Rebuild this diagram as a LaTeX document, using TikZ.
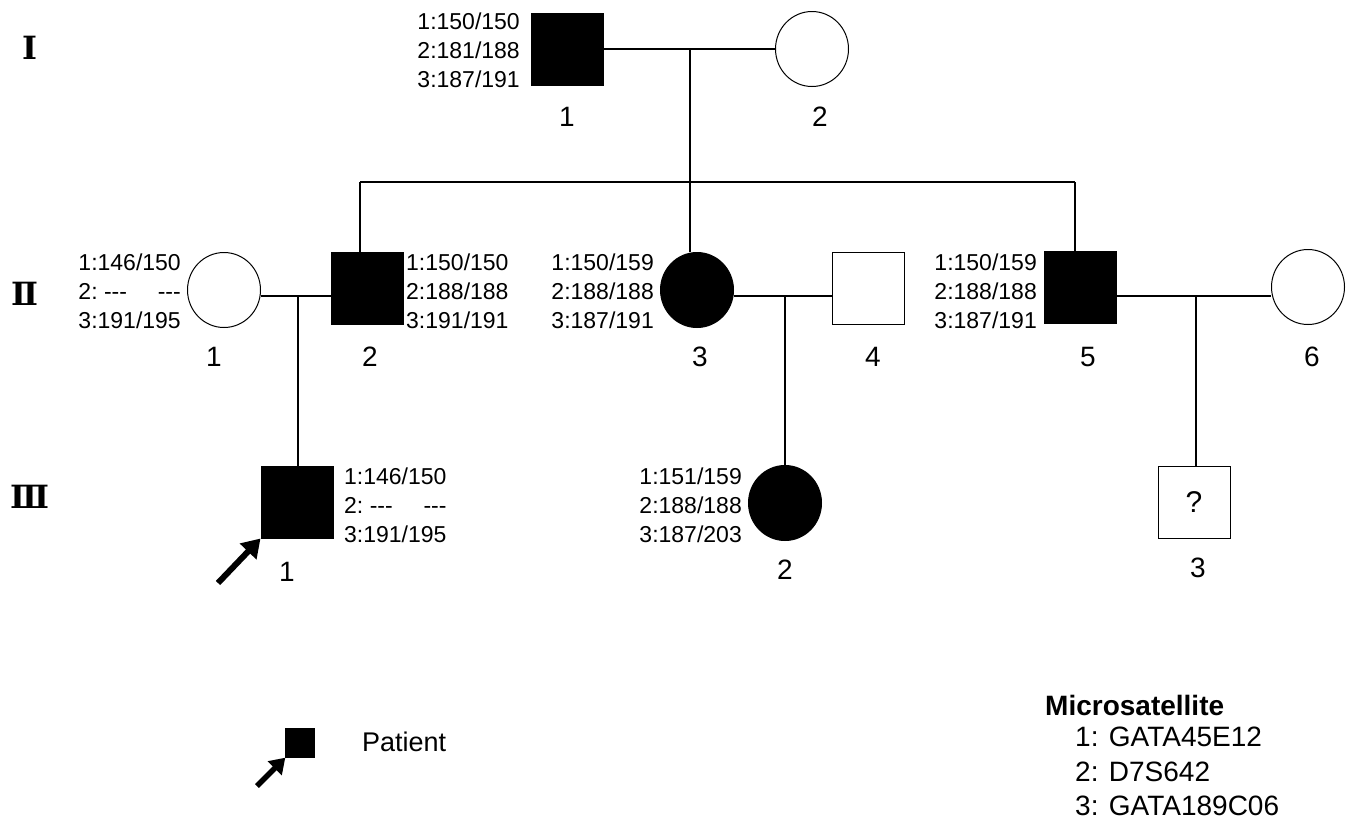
\documentclass[tikz,border=0pt]{standalone}
\usepackage{fontspec}
\setmainfont{Liberation Sans}
\newfontfamily\romfont{DejaVu Serif}
\usetikzlibrary{shapes.geometric,arrows.meta}
\newlength\gw
\newcommand\nocall{\settowidth{\gw}{1:146/150}\makebox[\gw][s]{2:\ -{}-{}-\hfill -{}-{}-}}
\begin{document}
\begin{tikzpicture}[x=1pt,y=-1pt,
  sq/.style={draw,line width=1pt,rectangle,minimum size=72pt,inner sep=0pt},
  aff/.style={fill=black},
  circ/.style={draw,line width=1pt,ellipse,minimum width=73pt,minimum height=75pt,inner sep=0pt},
  geno/.style={font=\fontsize{23}{29}\selectfont,align=left,inner sep=0pt},
  genor/.style={font=\fontsize{23}{29}\selectfont,align=right,inner sep=0pt},
  lab/.style={font=\fontsize{28}{28}\selectfont,inner sep=0pt},
  gen/.style={font=\romfont\bfseries\fontsize{32}{32}\selectfont,inner sep=0pt},
  ln/.style={line width=1.5pt},
  patarrow/.style={line width=6pt,-{Triangle[length=18pt,width=22pt]}}]
\useasboundingbox (0,0) rectangle (1355,825);
\fill[white] (0,0) rectangle (1355,825);
% generation labels
\node[gen] (gI) at (30,48) {Ⅰ};
\node[gen] (gII) at (25,294) {Ⅱ};
\node[gen] (gIII) at (30,497) {Ⅲ};
% generation I
\node[sq,aff] (I1) at (567,49) {};
\node[circ] (I2) at (812,49) {};
\node[genor,anchor=east] (tI1) at (520,50) {1:150/150\\2:181/188\\3:187/191};
\node[lab] (lI1) at (567,117) {1};
\node[lab] (lI2) at (820,117) {2};
% generation II
\node[circ] (II1) at (224,290) {};
\node[sq,aff] (II2) at (367,288) {};
\node[circ,aff] (II3) at (697,290) {};
\node[sq] (II4) at (868,288) {};
\node[sq,aff] (II5) at (1080,287) {};
\node[circ] (II6) at (1308,287) {};
\node[genor,anchor=east] (tII1) at (181,291) {1:146/150\\\nocall\\3:191/195};
\node[geno,anchor=west] (tII2) at (406,291) {1:150/150\\2:188/188\\3:191/191};
\node[genor,anchor=east] (tII3) at (654,291) {1:150/159\\2:188/188\\3:187/191};
\node[genor,anchor=east] (tII5) at (1037,291) {1:150/159\\2:188/188\\3:187/191};
\node[lab] (lII1) at (214,357) {1};
\node[lab] (lII2) at (370,357) {2};
\node[lab] (lII3) at (700,357) {3};
\node[lab] (lII4) at (873,357) {4};
\node[lab] (lII5) at (1088,357) {5};
\node[lab] (lII6) at (1312,357) {6};
% generation III
\node[sq,aff] (III1) at (297,502) {};
\node[circ,aff] (III2) at (785,503) {};
\node[sq] (III3) at (1194,502) {};
\node[font=\fontsize{30}{30}\selectfont,inner sep=0pt] (q) at (1194,502) {?};
\node[geno,anchor=west] (tIII1) at (344,505) {1:146/150\\\nocall\\3:191/195};
\node[genor,anchor=east] (tIII2) at (742,505) {1:151/159\\2:188/188\\3:187/203};
\node[lab] (lIII1) at (287,572) {1};
\node[lab] (lIII2) at (785,570) {2};
\node[lab] (lIII3) at (1198,568) {3};
% connectors
\coordinate (m1) at (690,49);
\coordinate (s1) at (690,182);
\coordinate (sL) at (360,182);
\coordinate (sR) at (1075,182);
\draw[ln] (I1) -- (I2);
\draw[ln] (m1) -- (s1);
\draw[ln] (sL) -- (sR);
\draw[ln] (sL) -- (sL |- II2.north);
\draw[ln] (s1) -- (s1 |- II3.north);
\draw[ln] (sR) -- (sR |- II5.north);
\coordinate (m2) at (298,296);
\coordinate (m3) at (785,296);
\coordinate (m4) at (1196,296);
\draw[ln] (II1.east |- m2) -- (II2.west |- m2);
\draw[ln] (II3.east |- m3) -- (II4.west |- m3);
\draw[ln] (II5.east |- m4) -- (II6.west |- m4);
\draw[ln] (m2) -- (m2 |- III1.north);
\draw[ln] (m3) -- (III2.north);
\draw[ln] (m4) -- (m4 |- III3.north);
% proband arrow
\coordinate (a1) at (218,583);
\draw[patarrow] (a1) -- (III1.south west);
% legend
\node[draw,fill=black,minimum size=29pt,inner sep=0pt] (legsq) at (300,743) {};
\coordinate (a2) at (257,786);
\draw[patarrow,line width=5.5pt,-{Triangle[length=15pt,width=19pt]}] (a2) -- (legsq.south west);
\node[font=\fontsize{27}{27}\selectfont,anchor=west,inner sep=0pt] (pat) at (362,742) {Patient};
\node[font=\bfseries\fontsize{28}{28}\selectfont,anchor=west,inner sep=0pt] (ms) at (1045,705) {Microsatellite};
\node[font=\fontsize{28}{34.5}\selectfont,anchor=north west,align=left,inner sep=0pt] (msl) at (1075,727) {1: GATA45E12\\2: D7S642\\3: GATA189C06};
\end{tikzpicture}
\end{document}
